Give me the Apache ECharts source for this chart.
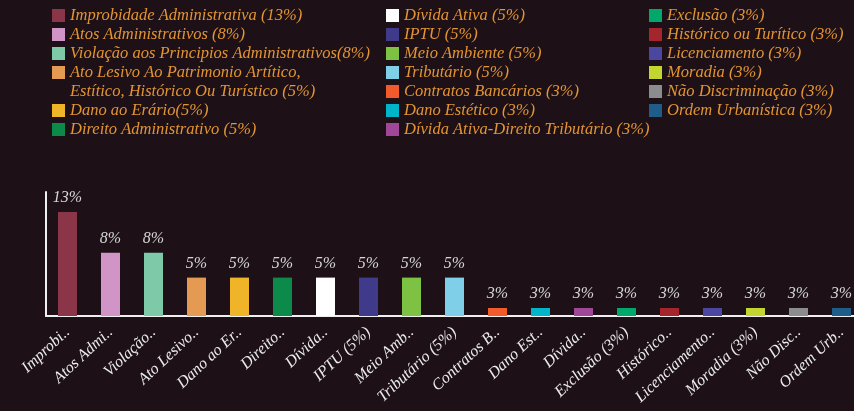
<!DOCTYPE html>
<html>
<head>
<meta charset="utf-8">
<script src="https://cdn.jsdelivr.net/npm/echarts@6/dist/echarts.min.js"></script>
<style>
  html, body { margin: 0; padding: 0; background: #1d1117; }
  #chart { width: 854px; height: 411px; }
</style>
</head>
<body>
<div id="chart"></div>
<script>
// nomes completos (legenda)
const seriesNames = [
  'Improbidade Administrativa (13%)',
  'Atos Administrativos (8%)',
  'Violação aos Principios Administrativos(8%)',
  'Ato Lesivo Ao Patrimonio Artítico,',
  'Dano ao Erário(5%)',
  'Direito Administrativo (5%)',
  'Dívida Ativa (5%)',
  'IPTU (5%)',
  'Meio Ambiente (5%)',
  'Tributário (5%)',
  'Contratos Bancários (3%)',
  'Dano Estético (3%)',
  'Dívida Ativa-Direito Tributário (3%)',
  'Exclusão (3%)',
  'Histórico ou Turítico (3%)',
  'Licenciamento (3%)',
  'Moradia (3%)',
  'Não Discriminação (3%)',
  'Ordem Urbanística (3%)'
]
const wrapLine = 'Estítico, Histórico Ou Turístico (5%)'

// rótulos do eixo x (truncados como no original)
const categories = [
  'Improbi..', 'Atos Admi..', 'Violação..', 'Ato Lesivo..', 'Dano ao Er..',
  'Direito..', 'Dívida..', 'IPTU (5%)', 'Meio Amb..', 'Tributário (5%)',
  'Contratos B..', 'Dano Est..', 'Dívida..', 'Exclusão (3%)', 'Histórico..',
  'Licenciamento..', 'Moradia (3%)', 'Não Disc..', 'Ordem Urb..'
]

// altura das barras
const values = [13, 7.9, 7.9, 4.8, 4.8, 4.8, 4.8, 4.8, 4.8, 4.8, 1, 1, 1, 1, 1, 1, 1, 1, 1]
const valueLabels = ['13%', '8%', '8%', '5%', '5%', '5%', '5%', '5%', '5%', '5%',
  '3%', '3%', '3%', '3%', '3%', '3%', '3%', '3%', '3%']

const colors = [
  '#8b3548', '#d194c6', '#7ecaa8', '#e49a52', '#f0b429', '#0b8a4a', '#ffffff',
  '#3f3a8a', '#7dc242', '#7fcfe9', '#f15a2b', '#00b4c9', '#a0479a',
  '#00a86b', '#a4262c', '#4b47a0', '#c3d52f', '#8a8c8e', '#1f5c8a'
]

const legendText = {
  color: '#e39433',
  fontFamily: 'Liberation Serif',
  fontStyle: 'italic',
  fontSize: 16.5,
  lineHeight: 19
}

const makeLegend = (left, names) => ({
  orient: 'vertical',
  left: left,
  top: 6,
  padding: 0,
  itemGap: 0,
  itemWidth: 13,
  itemHeight: 13,
  icon: 'rect',
  selectedMode: false,
  textStyle: legendText,
  data: names
})

const series = seriesNames.map((name, i) => ({
  name,
  type: 'bar',
  stack: 'total',
  barWidth: 19,
  itemStyle: { color: colors[i] },
  emphasis: { disabled: true },
  label: {
    show: true,
    position: 'top',
    distance: 6,
    formatter: () => valueLabels[i],
    color: '#d6d6d6',
    fontFamily: 'Liberation Serif',
    fontStyle: 'italic',
    fontSize: 16
  },
  data: values.map((v, j) => (j === i ? v : '-'))
}))
// linha extra da legenda (segunda linha do item "Ato Lesivo")
series.push({
  name: wrapLine,
  type: 'bar',
  stack: 'total',
  itemStyle: { color: 'rgba(0,0,0,0)' },
  data: []
})

const chart = echarts.init(document.getElementById('chart'))
chart.setOption({
  backgroundColor: '#1d1117',
  animation: false,
  legend: [
    makeLegend(52, seriesNames.slice(0, 4).concat([wrapLine], seriesNames.slice(4, 6))),
    makeLegend(386, seriesNames.slice(6, 13)),
    makeLegend(649, seriesNames.slice(13))
  ],
  grid: { left: 46, width: 817, top: 192, bottom: 95, containLabel: false, outerBoundsMode: 'none' },
  xAxis: {
    type: 'category',
    data: categories,
    axisLine: { show: true, lineStyle: { color: '#f0f0f0', width: 2 } },
    axisTick: { show: false },
    axisLabel: {
      interval: 0,
      rotate: 43,
      margin: 14,
      color: '#ececec',
      fontFamily: 'Liberation Serif',
      fontStyle: 'italic',
      fontSize: 16
    }
  },
  yAxis: {
    type: 'value',
    min: 0,
    max: 15.5,
    axisLine: { show: true, lineStyle: { color: '#f0f0f0', width: 2 } },
    axisTick: { show: false },
    axisLabel: { show: false },
    splitLine: { show: false }
  },
  series
})
</script>
</body>
</html>
